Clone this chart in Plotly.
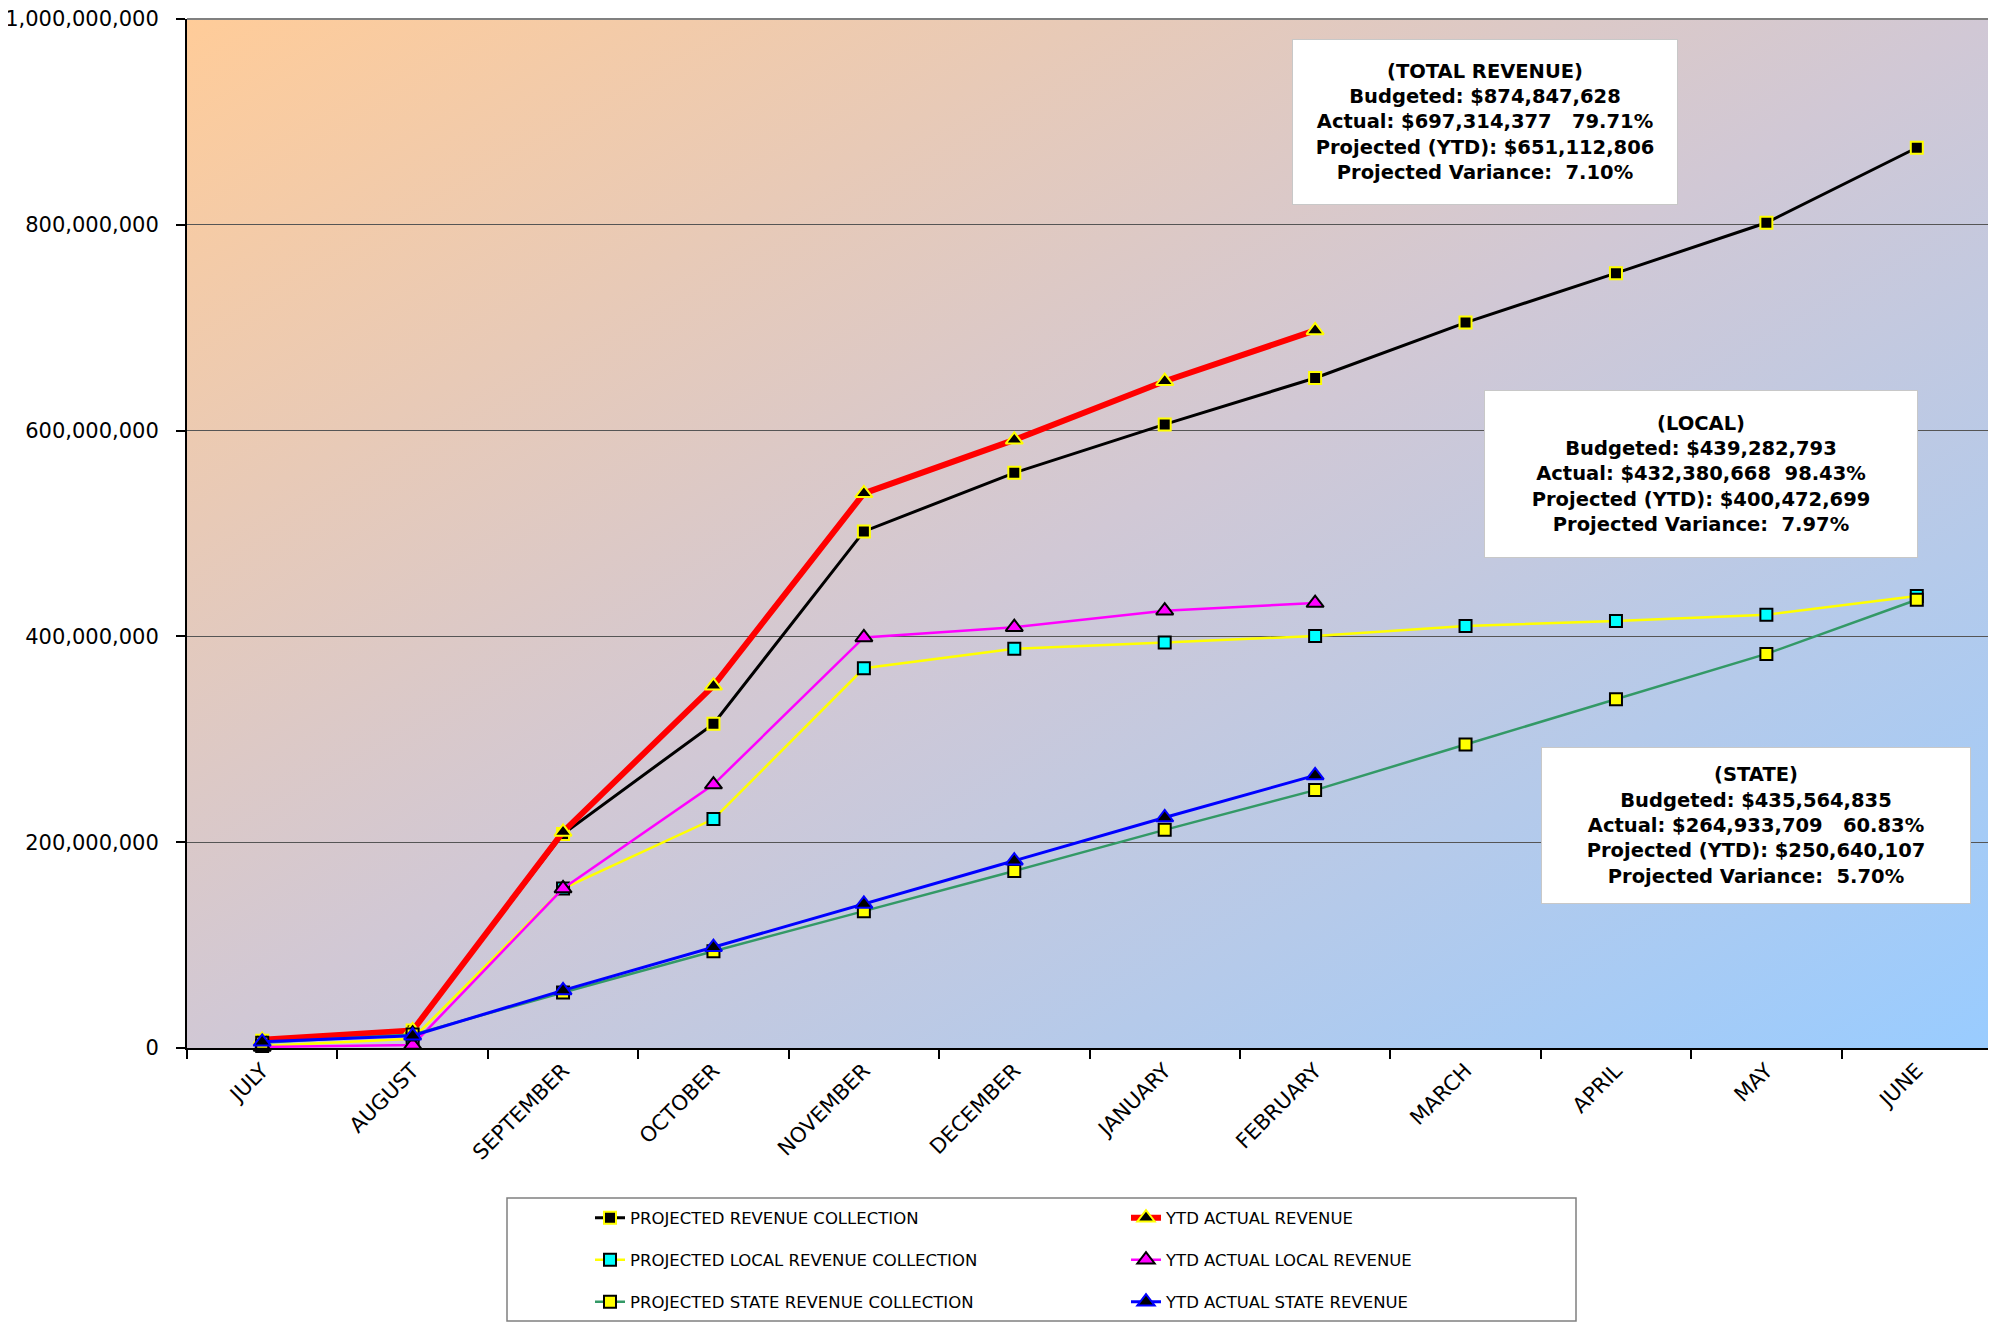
import base64
import plotly.graph_objects as go

months = ["JULY", "AUGUST", "SEPTEMBER", "OCTOBER", "NOVEMBER", "DECEMBER",
          "JANUARY", "FEBRUARY", "MARCH", "APRIL", "MAY", "JUNE"]

proj_total = [7e6, 17e6, 208e6, 315e6, 502e6, 559e6, 606e6, 651112806,
              705e6, 753e6, 802e6, 874847628]
ytd_total = [8e6, 17e6, 210e6, 352e6, 539e6, 591e6, 648e6, 697314377]
proj_local = [2e6, 9e6, 155e6, 222.5e6, 369e6, 388e6, 394e6, 400472699,
              410e6, 415e6, 421e6, 439282793]
ytd_local = [1e6, 3e6, 155e6, 256e6, 399e6, 409e6, 425e6, 432380668]
proj_state = [5e6, 13e6, 54e6, 94e6, 133e6, 172e6, 212e6, 250640107,
              295e6, 339e6, 383e6, 435564835]
ytd_state = [6e6, 12e6, 56e6, 98e6, 140e6, 182e6, 224e6, 264933709]

names = ["PROJECTED REVENUE COLLECTION", "YTD ACTUAL REVENUE",
         "PROJECTED LOCAL REVENUE COLLECTION", "YTD ACTUAL LOCAL REVENUE",
         "PROJECTED STATE REVENUE COLLECTION", "YTD ACTUAL STATE REVENUE"]

box_total = ["(TOTAL REVENUE)", "Budgeted: $874,847,628",
             "Actual: $697,314,377\u00a0\u00a0\u00a079.71%",
             "Projected (YTD): $651,112,806", "Projected Variance:\u00a0\u00a07.10%"]
box_local = ["(LOCAL)", "Budgeted: $439,282,793",
             "Actual: $432,380,668\u00a0\u00a098.43%",
             "Projected (YTD): $400,472,699", "Projected Variance:\u00a0\u00a07.97%"]
box_state = ["(STATE)", "Budgeted: $435,564,835",
             "Actual: $264,933,709\u00a0\u00a0\u00a060.83%",
             "Projected (YTD): $250,640,107", "Projected Variance:\u00a0\u00a05.70%"]

# screen geometry (page body has an 8px default margin)
SW, SH, OFF = 1996, 1322, 8
L, R, T, B = 187, 1992, 19, 1048
PW, PH = R - L, B - T

def px(x):
    return (x - L) / PW

def py(y):
    return (B - y) / PH

fig = go.Figure()

specs = [
    (proj_total, names[0], dict(color="#000000", width=3), "square",
     dict(color="#000000", size=12, line=dict(color="#FFFF00", width=2)), "legend"),
    (ytd_total, names[1], dict(color="#FF0000", width=6), "triangle-up",
     dict(color="#000000", size=15, line=dict(color="#FFFF00", width=2)), "legend"),
    (proj_local, names[2], dict(color="#FFFF00", width=2.5), "square",
     dict(color="#00FFFF", size=12, line=dict(color="#000000", width=2)), "legend2"),
    (ytd_local, names[3], dict(color="#FF00FF", width=2.5), "triangle-up",
     dict(color="#FF00FF", size=15, line=dict(color="#000000", width=2)), "legend2"),
    (proj_state, names[4], dict(color="#339966", width=2.5), "square",
     dict(color="#FFFF00", size=12, line=dict(color="#000000", width=2)), "legend3"),
    (ytd_state, names[5], dict(color="#0000FF", width=3), "triangle-up",
     dict(color="#000000", size=15, line=dict(color="#0000FF", width=2)), "legend3"),
]

for vals, name, line, sym, mk, lg in specs:
    mk = dict(mk)
    mk["symbol"] = sym
    fig.add_trace(go.Scatter(
        x=months[:len(vals)], y=vals, name=name, mode="lines+markers",
        line=line, marker=mk, legend=lg, cliponaxis=False))

svg = (f"<svg xmlns='http://www.w3.org/2000/svg' width='{PW}' height='{PH}' "
       f"viewBox='0 0 {PW} {PH}' preserveAspectRatio='none'>"
       "<defs><linearGradient id='g' x1='0' y1='0' x2='1' y2='1'>"
       "<stop offset='0' stop-color='#FFCC99'/>"
       "<stop offset='0.5' stop-color='#D1C8D5'/>"
       "<stop offset='1' stop-color='#99CCFF'/>"
       "</linearGradient></defs>"
       f"<rect x='0' y='0' width='{PW}' height='{PH}' fill='url(#g)'/></svg>")
src = "data:image/svg+xml;base64," + base64.b64encode(svg.encode()).decode()

fig.add_layout_image(dict(source=src, xref="paper", yref="paper", x=0, y=1,
                          sizex=1, sizey=1, sizing="stretch", layer="below",
                          xanchor="left", yanchor="top"))

tick_font = dict(family="DejaVu Sans", size=21, color="#000000")
leg_font = dict(family="DejaVu Sans", size=16.5, color="#000000")

legend_common = dict(orientation="h", xanchor="left", yanchor="middle",
                     x=px(590), bgcolor="rgba(0,0,0,0)", borderwidth=0,
                     font=leg_font, entrywidth=491, entrywidthmode="pixels")

fig.update_layout(
    width=SW - OFF, height=SH - OFF,
    margin=dict(l=L - OFF, r=SW - R, t=T - OFF, b=SH - B, autoexpand=False),
    paper_bgcolor="#FFFFFF",
    plot_bgcolor="rgba(0,0,0,0)",
    showlegend=True,
    legend=dict(legend_common, y=py(1218)),
    legend2=dict(legend_common, y=py(1260)),
    legend3=dict(legend_common, y=py(1302)),
    xaxis=dict(type="category", categoryorder="array", categoryarray=months,
               range=[-0.5, 11.5], tickson="boundaries", ticks="outside",
               ticklen=9, tickcolor="#000000", tickwidth=1.5,
               showline=True, linecolor="#000000", linewidth=2,
               showgrid=False, tickangle=-45, tickfont=tick_font,
               ticklabeloverflow="allow", automargin=False),
    yaxis=dict(range=[0, 1e9], dtick=2e8, tick0=0, tickformat=",d",
               ticks="outside", ticklen=9, tickcolor="#000000", tickwidth=1.5,
               ticklabelstandoff=13, ticklabeloverflow="allow", automargin=False,
               showline=True, linecolor="#000000", linewidth=2,
               showgrid=True, gridcolor="#555555", gridwidth=1,
               zeroline=False, tickfont=tick_font),
)

# plot area top/right border
fig.add_shape(type="line", xref="paper", yref="paper", x0=0, x1=1, y0=1, y1=1,
              line=dict(color="#808080", width=2))
fig.add_shape(type="line", xref="paper", yref="paper", x0=1, x1=1, y0=0, y1=1,
              line=dict(color="#808080", width=2))
# legend frame
fig.add_shape(type="rect", xref="paper", yref="paper",
              x0=px(507), x1=px(1576), y0=py(1198), y1=py(1321),
              line=dict(color="#808080", width=1.5), fillcolor="rgba(0,0,0,0)")

box_font = dict(family="DejaVu Sans", size=19.5, color="#000000", weight="bold")
for lines, x0, x1, y0, y1 in [(box_total, 1292, 1678, 39, 205),
                              (box_local, 1484, 1918, 390, 558),
                              (box_state, 1541, 1971, 747, 904)]:
    fig.add_annotation(
        text="<br>".join(lines), xref="paper", yref="paper",
        x=px((x0 + x1) / 2), y=py((y0 + y1) / 2), xanchor="center", yanchor="middle",
        showarrow=False, align="center", valign="middle",
        width=x1 - x0 - 2, height=y1 - y0 - 2, bgcolor="#FFFFFF",
        bordercolor="#C8C8C8", borderwidth=1, borderpad=0, font=box_font)

fig.write_html("out.html")
